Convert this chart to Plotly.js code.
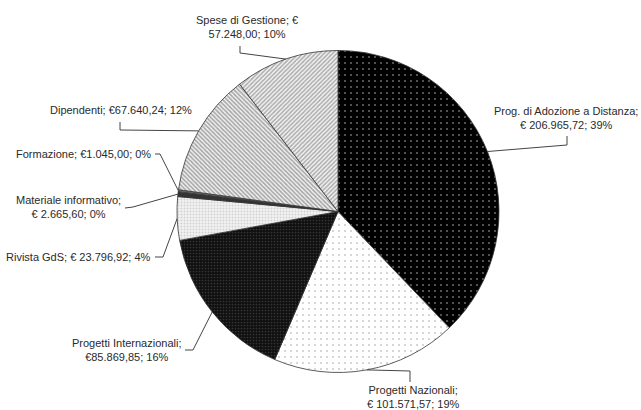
<!DOCTYPE html>
<html>
<head>
<meta charset="utf-8">
<script src="https://cdn.plot.ly/plotly-3.0.1.min.js"></script>
<style>html,body{margin:0;padding:0;background:#fff;}#chart{width:641px;height:410px;}</style>
</head>
<body>
<div id="chart"></div>
<script>
// ---- data ----
const categories = [
  "Prog. di Adozione a Distanza",
  "Progetti Nazionali",
  "Progetti Internazionali",
  "Rivista GdS",
  "Materiale informativo",
  "Formazione",
  "Dipendenti",
  "Spese di Gestione"
];
const values = [206965.72, 101571.57, 85869.85, 23796.92, 2665.60, 1045.00, 67640.24, 57248.00];
const labelTexts = [
  "Prog. di Adozione a Distanza;<br>€ 206.965,72; 39%",
  "Progetti Nazionali;<br>€ 101.571,57; 19%",
  "Progetti Internazionali;<br>€85.869,85; 16%",
  "Rivista GdS; € 23.796,92; 4%",
  "Materiale informativo;<br>€ 2.665,60; 0%",
  "Formazione; €1.045,00; 0%",
  "Dipendenti; €67.640,24; 12%",
  "Spese di Gestione; €<br>57.248,00; 10%"
];

// ---- styles / layout (pixels) ----
const W = 641, H = 410;
const CX = 338, CY = 211.5, R = 161;
const patterns = [
  {shape: ".", bgcolor: "#000000", fgcolor: "#c8c8c8", size: 6, solidity: 0.1},
  {shape: ".", bgcolor: "#ffffff", fgcolor: "#9a9a9a", size: 6, solidity: 0.1},
  {shape: ".", bgcolor: "#101010", fgcolor: "#5a5a5a", size: 3, solidity: 0.25},
  {shape: ".", bgcolor: "#f2f2f2", fgcolor: "#b0b0b0", size: 3, solidity: 0.3},
  {shape: "", bgcolor: "#333333", fgcolor: "#333333", size: 3, solidity: 0.3},
  {shape: "", bgcolor: "#6e6e6e", fgcolor: "#6e6e6e", size: 3, solidity: 0.3},
  {shape: "\\", bgcolor: "#f4f4f4", fgcolor: "#5a5a5a", size: 3, solidity: 0.55},
  {shape: "/", bgcolor: "#f4f4f4", fgcolor: "#626262", size: 3, solidity: 0.5}
];
const colors = ["#000000", "#ffffff", "#101010", "#eeeeee", "#333333", "#6e6e6e", "#aaaaaa", "#b0b0b0"];
// label placement: text anchor point, alignment and elbow points of leader (px)
const labelPos = [
  {x: 566, y: 118, xa: "center", al: "center", elbow: [[567, 145], [567, 136]]},
  {x: 413, y: 397, xa: "center", al: "center", elbow: [[410, 371], [410, 382]]},
  {x: 183, y: 350, xa: "right", al: "center", elbow: [[193, 350], [185, 350]]},
  {x: 153, y: 257, xa: "right", al: "left", elbow: [[163, 257], [155, 257]]},
  {x: 123, y: 207, xa: "right", al: "center", elbow: [[133, 207], [125, 208]]},
  {x: 153, y: 154, xa: "right", al: "left", elbow: [[160, 154], [155, 154]]},
  {x: 121, y: 110, xa: "center", al: "center", elbow: [[120, 130], [120, 122]]},
  {x: 247, y: 27, xa: "center", al: "center", elbow: [[240, 53], [240, 46]]}
];

const px = x => x / W;
const py = y => 1 - y / H;

const total = values.reduce((a, b) => a + b, 0);
let cum = 0;
const shapes = [];
const annotations = [];
values.forEach((v, i) => {
  const mid = (cum + v / 2) / total * 2 * Math.PI;
  cum += v;
  const ex = CX + R * Math.sin(mid);
  const ey = CY - R * Math.cos(mid);
  const lp = labelPos[i];
  const pts = [[ex, ey]].concat(lp.elbow);
  const path = pts.map((p, k) => (k ? "L" : "M") + px(p[0]).toFixed(5) + "," + py(p[1]).toFixed(5)).join(" ");
  shapes.push({type: "path", xref: "paper", yref: "paper", path: path,
    line: {color: "#444444", width: 1}});
  annotations.push({xref: "paper", yref: "paper", x: px(lp.x), y: py(lp.y),
    xanchor: lp.xa, yanchor: "middle", align: lp.al, text: labelTexts[i], showarrow: false,
    font: {family: "Liberation Sans, Arial, sans-serif", size: 11, color: "#2a2a2a"}});
});

const trace = {
  type: "pie",
  labels: categories,
  values: values,
  sort: false,
  direction: "clockwise",
  rotation: 0,
  textinfo: "none",
  hoverinfo: "label+value+percent",
  domain: {x: [(CX - R) / W, (CX + R) / W], y: [(H - CY - R) / H, (H - CY + R) / H]},
  marker: {
    colors: colors,
    pattern: {
      shape: patterns.map(p => p.shape),
      bgcolor: patterns.map(p => p.bgcolor),
      fgcolor: patterns.map(p => p.fgcolor),
      size: patterns.map(p => p.size),
      solidity: patterns.map(p => p.solidity),
      fillmode: "overlay"
    },
    line: {color: "#333333", width: 0.8}
  }
};

Plotly.newPlot("chart", [trace], {
  width: W, height: H,
  margin: {l: 0, r: 0, t: 0, b: 0},
  showlegend: false,
  paper_bgcolor: "#ffffff",
  shapes: shapes,
  annotations: annotations
}, {displayModeBar: false, staticPlot: true});
</script>
</body>
</html>
